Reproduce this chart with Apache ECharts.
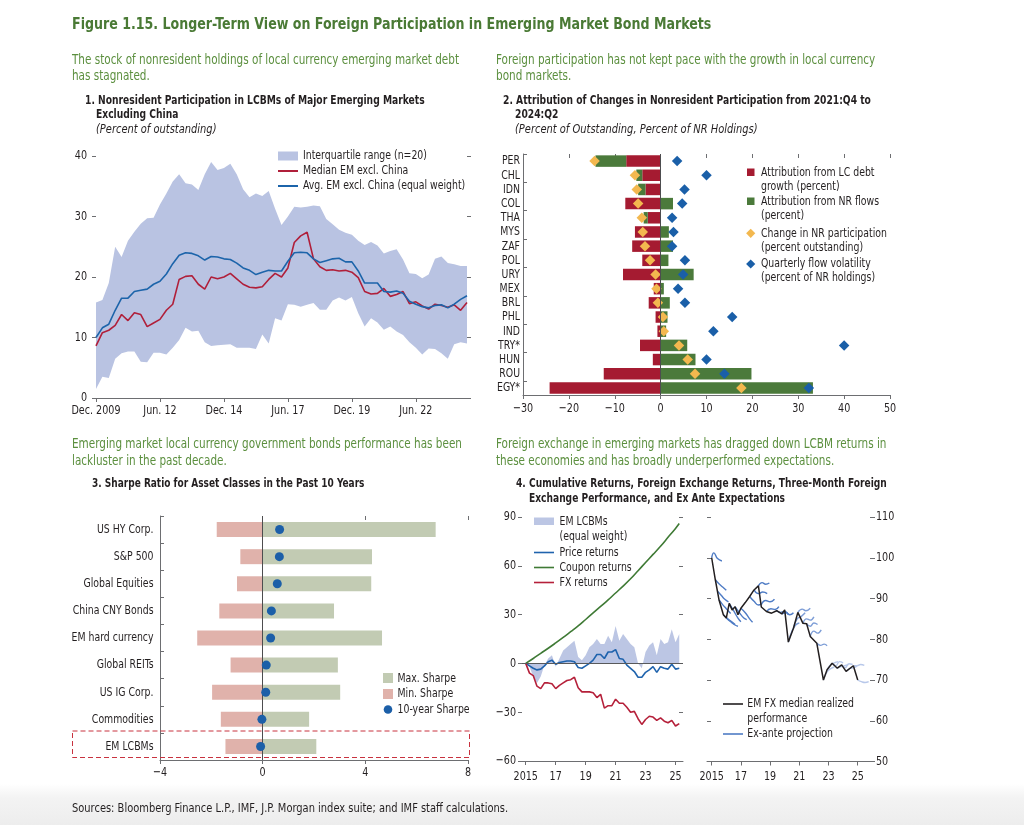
<!DOCTYPE html>
<html><head><meta charset="utf-8">
<script src="https://cdn.jsdelivr.net/npm/echarts@6/dist/echarts.min.js"></script>
<style>html,body{margin:0;padding:0;background:#fff}#c{width:1024px;height:825px}</style>
</head><body><div id="c"></div>
<script>
// ---------------- Panel 1 data (quarterly, Dec. 2009 - Jun. 2024) ----------------
const p1TickIndex = [0, 10, 20, 30, 40, 50];
const p1TickLabels = ['Dec. 2009', 'Jun. 12', 'Dec. 14', 'Jun. 17', 'Dec. 19', 'Jun. 22'];
const p1YTicks = [0, 10, 20, 30, 40];
const p1Avg = [10.0,11.6,12.2,14.5,16.5,16.5,17.6,17.8,18.0,18.8,19.3,20.5,22.2,23.6,24.0,23.9,23.5,22.8,23.4,23.3,23.0,22.9,22.3,21.5,21.1,20.4,20.8,21.1,21.0,21.0,22.6,24.0,24.1,24.0,23.0,22.4,22.7,23.0,23.1,22.5,22.5,21.0,19.0,19.0,19.0,17.6,17.5,17.7,17.3,16.0,15.5,15.1,14.9,15.3,15.4,14.9,15.5,16.3,16.9];
const p1Median = [8.6,10.8,11.2,12.0,13.8,12.8,14.1,13.8,11.8,12.4,13.0,14.5,15.5,19.6,20.1,20.2,18.8,18.0,20.0,19.7,20.0,20.6,19.7,18.8,18.3,18.2,18.4,19.6,20.6,20.0,21.5,25.7,26.8,27.4,23.0,21.7,21.1,21.2,21.0,21.1,20.8,19.9,17.6,17.2,17.3,18.1,16.8,17.1,17.6,15.6,15.9,15.2,14.7,15.5,15.3,15.0,15.4,14.5,15.8];
const p1Upper = [15.8,16.2,19.0,25.0,23.3,26.0,27.5,28.8,29.7,29.8,32.0,33.8,35.8,37.0,35.5,35.3,34.4,37.0,39.0,37.7,38.0,38.7,37.0,34.5,33.2,33.8,33.4,34.2,31.3,28.6,30.0,31.6,31.5,31.6,31.8,31.7,29.6,28.7,27.8,27.3,27.0,26.0,25.3,25.8,25.2,23.9,24.3,24.6,22.9,20.6,20.5,19.8,20.4,23.0,23.4,22.3,22.1,21.8,21.8];
const p1Lower = [1.5,3.5,3.3,6.5,7.4,7.7,7.7,6.0,5.9,7.5,7.5,7.2,8.3,9.6,11.6,11.0,11.1,9.2,8.6,8.7,8.8,8.9,8.3,8.3,8.3,8.1,10.5,9.0,13.2,12.8,15.5,15.4,15.1,15.4,15.7,14.6,14.6,16.1,16.6,16.1,16.7,14.0,11.8,13.2,12.5,11.3,11.8,11.0,10.4,9.2,8.3,7.2,8.2,8.1,7.4,6.5,8.9,9.2,9.0];
const p1Quarters = [];
for (let i = 0; i < p1Avg.length; i++) { const q = 2009 * 4 + 3 + i; p1Quarters.push(Math.floor(q / 4) + 'Q' + (q % 4 + 1)); }

// ---------------- Panel 2 data ----------------
const p2Countries = ['PER','CHL','IDN','COL','THA','MYS','ZAF','POL','URY','MEX','BRL','PHL','IND','TRY*','HUN','ROU','EGY*'];
const p2LcDebt = [-7.5,-4.0,-3.3,-7.7,-2.8,-5.6,-6.2,-4.0,-8.2,-1.5,-2.6,-1.1,-0.7,-4.5,-1.7,-12.4,-24.2];
const p2NrFlows = [-6.7,-1.3,-1.6,2.7,-0.9,1.8,2.7,1.7,7.2,0.7,2.0,1.5,1.2,5.8,7.6,19.8,33.2];
const p2Change = [-14.4,-5.6,-5.2,-4.9,-4.1,-3.9,-3.4,-2.3,-1.1,-0.9,-0.6,0.5,0.7,4.0,5.9,7.5,17.6];
const p2Volatility = [3.6,10.0,5.2,4.7,2.5,2.8,2.5,5.3,4.9,3.8,5.3,15.6,11.5,40.0,10.0,13.9,32.3];
const p2XTicks = [-30, -20, -10, 0, 10, 20, 30, 40, 50];

// ---------------- Panel 3 data ----------------
const p3Assets = ['US HY Corp.','S&P 500','Global Equities','China CNY Bonds','EM hard currency','Global REITs','US IG Corp.','Commodities','EM LCBMs'];
const p3Max = [6.74,4.26,4.23,2.78,4.65,2.93,3.02,1.81,2.09];
const p3Min = [-1.79,-0.87,-1.0,-1.69,-2.55,-1.25,-1.97,-1.63,-1.45];
const p3Sharpe = [0.66,0.65,0.57,0.34,0.31,0.14,0.12,-0.03,-0.08];
const p3XTicks = [-4, 0, 4, 8];

// ---------------- Panel 4 (left) data ----------------
const p4TickYears = [2015, 2017, 2019, 2021, 2023, 2025];
const p4TickLabels = ['2015', '17', '19', '21', '23', '25'];
const p4LYTicks = [-60, -30, 0, 30, 60, 90];
const p4Years = [2015,2015.25,2015.5,2015.75,2016,2016.25,2016.5,2016.75,2017,2017.25,2017.5,2017.75,2018,2018.25,2018.5,2018.75,2019,2019.25,2019.5,2019.75,2020,2020.25,2020.5,2020.75,2021,2021.25,2021.5,2021.75,2022,2022.25,2022.5,2022.75,2023,2023.25,2023.5,2023.75,2024,2024.25,2024.5,2024.75,2025,2025.25];
const p4Total = [0,-2,-8,-12,-8,-1,3,5,-2,3,8,10,12,14,4,2,5,10,12,15,12,12,17,13,23,14,18,15,12,10,0,-3,7,11,13,5,15,12,13,21,13,18];
const p4Price = [0,-1.5,-3,-4,-3.5,-1.5,1,2,-0.5,0.5,1,1.5,1.5,1,-2.5,-3,-1.5,0,2,5.5,5.5,3,7,7,8.5,3,2.5,-1,-3,-5,-8.5,-8.5,-5.5,-4,-2,-5.5,-2,-3,-3.5,-0.5,-3.5,-3];
const p4FxRet = [0,-6,-7.5,-14,-15.5,-12,-12,-12.5,-15.5,-13.5,-12,-10.5,-10,-8.5,-15,-17.5,-17.5,-17.5,-18,-21,-19,-27.5,-26,-26,-22,-24.5,-24.5,-27,-30,-29.5,-34,-37.5,-34.5,-32.5,-33,-35,-33.5,-35.5,-36.5,-35,-38.5,-37];
const p4CouponYears = [2015,2015.5,2016,2016.5,2017,2017.5,2018,2018.5,2019,2019.5,2020,2020.5,2021,2021.5,2022,2022.5,2023,2023.5,2024,2024.5,2025,2025.25];
const p4Coupon = [0,3,6.2,9.3,12.6,16,19.5,23,27,31,35,39,43.3,47.5,52,57,62,67,72,77.5,83,86];

// ---------------- Panel 4 (right) data ----------------
const p4RYTicks = [50, 60, 70, 80, 90, 100, 110];
const p4FxYears = [2015.0,2015.25,2015.5,2015.8,2016.0,2016.2,2016.4,2016.6,2016.8,2017.0,2017.3,2017.6,2017.9,2018.2,2018.4,2018.75,2019.1,2019.45,2019.8,2020.0,2020.25,2020.6,2020.9,2021.25,2021.5,2021.75,2022.2,2022.65,2022.9,2023.25,2023.6,2023.9,2024.2,2024.7,2025.0];
const p4FxMedian = [100,94.6,89.7,86,85.2,88.8,87.2,88,86,87.6,89,90.5,92.1,93.1,87.9,86.8,86.4,87,86.2,87.2,79.3,82.7,86.6,83.9,83.8,80.7,79,70,72.5,74.1,72.9,73.7,72.1,73.5,70];
const p4Projections = [
  [[2015.0,100],[2015.15,101.2],[2015.4,99.8],[2015.7,99.2]],
  [[2015.25,94.6],[2015.5,93.6],[2015.75,92.8],[2016.0,92.0]],
  [[2015.4,91.8],[2015.65,90.8],[2015.9,89.8],[2016.15,89.2]],
  [[2015.5,89.7],[2015.75,88.5],[2016.0,87.5],[2016.3,86.3]],
  [[2015.8,86],[2016.1,85],[2016.4,84.2],[2016.6,83.6]],
  [[2016.0,85.2],[2016.3,84.3],[2016.6,83.5],[2016.8,83.2]],
  [[2016.2,88.8],[2016.5,87],[2016.8,85.2],[2017.0,84.3]],
  [[2016.6,88],[2016.9,86.5],[2017.2,85.2],[2017.4,84.8]],
  [[2017.0,87.6],[2017.3,86.5],[2017.6,85],[2017.8,84.2]],
  [[2017.6,90.5],[2017.9,89.3],[2018.2,88.4],[2018.4,88.6]],
  [[2017.9,92.1],[2018.2,91.2],[2018.5,91.6],[2018.8,91.2]],
  [[2018.2,93.1],[2018.45,93.9],[2018.7,93.5],[2018.95,93.8]],
  [[2018.4,88.5],[2018.7,89.5],[2019.0,89.2],[2019.3,89.8]],
  [[2018.75,86.8],[2019.05,87.5],[2019.35,87.3],[2019.6,88]],
  [[2019.45,87],[2019.7,86.6],[2020.0,86.8],[2020.25,86]],
  [[2019.8,86.2],[2020.1,86.5],[2020.35,86],[2020.6,86.5]],
  [[2020.25,79.3],[2020.5,82],[2020.75,83.5],[2021.0,84]],
  [[2020.6,82.7],[2020.85,85],[2021.1,85.5],[2021.4,86.5]],
  [[2020.9,86.6],[2021.2,87.4],[2021.45,87],[2021.75,87.6]],
  [[2021.25,83.9],[2021.5,85],[2021.75,84.7],[2022.0,85.5]],
  [[2021.5,83.8],[2021.75,83.2],[2022.0,84.0],[2022.25,83.6]],
  [[2021.75,80.7],[2022.0,82],[2022.25,81.5],[2022.5,82.3]],
  [[2022.2,79],[2022.45,78.5],[2022.7,78.8],[2022.9,78.4]],
  [[2022.65,70],[2022.9,72],[2023.15,72.8],[2023.4,73.2]],
  [[2022.9,72.5],[2023.15,73.8],[2023.4,74.2],[2023.65,74.5]],
  [[2023.25,74.1],[2023.5,73.5],[2023.75,74.5],[2024.0,74.2]],
  [[2023.6,72.9],[2023.85,73.3],[2024.1,73.5],[2024.35,73.8]],
  [[2023.9,73.7],[2024.15,73],[2024.4,74],[2024.65,73.8]],
  [[2024.2,72.1],[2024.45,72.8],[2024.7,73],[2024.95,73.4]],
  [[2024.7,73.5],[2024.95,73.5],[2025.2,73.8],[2025.45,73.6]],
  [[2025.0,70],[2025.25,69.6],[2025.5,69.4],[2025.75,69.6]]
];

// ---------------- styling ----------------
const FF = "'DejaVu Sans Condensed','DejaVu Sans',sans-serif";
const AX = '#6d6e71', TXT = '#231f20';
const GREEN_T = '#4a7a35', GREEN_S = '#5b8f3e';
const C = {
  p1Band: '#b9c3e2', p1Red: '#b01f3a', p1Blue: '#1c64aa',
  p2Red: '#a51b31', p2Green: '#4b7a3b', p2Yellow: '#f3b84f', p2Blue: '#1a5fa8',
  p3Max: '#c2cbb3', p3Min: '#e0b2ab', p3Dot: '#1c5fa8',
  p4Band: '#bcc6e4', p4Green: '#3f7a35', p4Blue: '#1f63ad', p4Red: '#b5203a',
  p4Black: '#231f20'
};
const minus = v => (v < 0 ? '\u2212' + Math.abs(v) : String(v));
const isP1Tick = (i) => p1TickIndex.indexOf(i) >= 0;
const S_REG = 0.8, S_NUM = 0.82;

function txt(t, x, y, font, fill, align, sx, valign) {
  return { type: 'text', x: x, y: y, scaleX: sx || S_REG, silent: true, z: 100,
    style: { text: t, font: font, fill: fill || TXT, align: align || 'left', textAlign: align || 'left',
      verticalAlign: valign || 'middle', textVerticalAlign: valign || 'middle' } };
}
function rect(x, y, w, h, fill) { return { type: 'rect', silent: true, z: 100, shape: { x: x, y: y, width: w, height: h }, style: { fill: fill } }; }
function hline(x1, x2, y, stroke, w) { return { type: 'line', silent: true, z: 100, shape: { x1: x1, y1: y, x2: x2, y2: y }, style: { stroke: stroke, lineWidth: w || 2 } }; }
function diamond(cx, cy, r, fill) { return { type: 'polygon', silent: true, z: 100, shape: { points: [[cx, cy - r], [cx + r, cy], [cx, cy + r], [cx - r, cy]] }, style: { fill: fill } }; }

const fTitle = 'bold 16px ' + FF;
const fSub = '14.5px ' + FF;
const fPT = 'bold 12.5px ' + FF;
const fPI = 'italic 12.5px ' + FF;
const fLeg = '13px ' + FF;
const fTick = '13px ' + FF;

const graphics = [
  { type: 'rect', silent: true, z: -10, shape: { x: 0, y: 784, width: 1024, height: 41 },
    style: { fill: new echarts.graphic.LinearGradient(0, 0, 0, 1, [{ offset: 0, color: 'rgba(242,242,242,0)' }, { offset: 0.35, color: '#f3f3f3' }, { offset: 1, color: '#ededed' }]) } },
  txt('Figure 1.15. Longer-Term View on Foreign Participation in Emerging Market Bond Markets', 72, 25, fTitle, GREEN_T, 'left', 0.877),
  txt('The stock of nonresident holdings of local currency emerging market debt', 72, 60, fSub, GREEN_S),
  txt('has stagnated.', 72, 76, fSub, GREEN_S),
  txt('1. Nonresident Participation in LCBMs of Major Emerging Markets', 85, 101, fPT, TXT, 'left', 0.815),
  txt('Excluding China', 96, 115, fPT, TXT, 'left', 0.815),
  txt('(Percent of outstanding)', 96, 130, fPI, TXT, 'left', 0.88),
  txt('Foreign participation has not kept pace with the growth in local currency', 496, 60, fSub, GREEN_S),
  txt('bond markets.', 496, 76, fSub, GREEN_S),
  txt('2. Attribution of Changes in Nonresident Participation from 2021:Q4 to', 503, 101, fPT, TXT, 'left', 0.815),
  txt('2024:Q2', 515, 115, fPT, TXT, 'left', 0.815),
  txt('(Percent of Outstanding, Percent of NR Holdings)', 515, 130, fPI, TXT, 'left', 0.88),
  txt('Emerging market local currency government bonds performance has been', 72, 444, fSub, GREEN_S),
  txt('lackluster in the past decade.', 72, 461, fSub, GREEN_S),
  txt('3. Sharpe Ratio for Asset Classes in the Past 10 Years', 92, 484, fPT, TXT, 'left', 0.8),
  txt('Foreign exchange in emerging markets has dragged down LCBM returns in', 496, 444, fSub, GREEN_S),
  txt('these economies and has broadly underperformed expectations.', 496, 461, fSub, GREEN_S),
  txt('4. Cumulative Returns, Foreign Exchange Returns, Three-Month Foreign', 516, 484, fPT, TXT, 'left', 0.81),
  txt('Exchange Performance, and Ex Ante Expectations', 529, 499, fPT, TXT, 'left', 0.81),
  txt('Sources: Bloomberg Finance L.P., IMF, J.P. Morgan index suite; and IMF staff calculations.', 72, 809, '12.5px ' + FF, TXT, 'left', 0.88),

  // panel 1 legend
  rect(278, 151.5, 20, 9, C.p1Band),
  txt('Interquartile range (n=20)', 303, 156, fLeg),
  hline(278, 298, 171, C.p1Red, 2),
  txt('Median EM excl. China', 303, 171, fLeg),
  hline(278, 298, 186, C.p1Blue, 2),
  txt('Avg. EM excl. China (equal weight)', 303, 186, fLeg),

  // panel 2 legend
  rect(747, 168.5, 7.5, 7.5, C.p2Red),
  txt('Attribution from LC debt', 761, 172.5, fLeg),
  txt('growth (percent)', 761, 186.5, fLeg),
  rect(747, 197.5, 7.5, 7.5, C.p2Green),
  txt('Attribution from NR flows', 761, 201.5, fLeg),
  txt('(percent)', 761, 215.5, fLeg),
  diamond(750.7, 233.3, 4.6, C.p2Yellow),
  txt('Change in NR participation', 761, 233.3, fLeg),
  txt('(percent outstanding)', 761, 247.3, fLeg),
  diamond(750.7, 264, 4.6, C.p2Blue),
  txt('Quarterly flow volatility', 761, 264, fLeg),
  txt('(percent of NR holdings)', 761, 277.8, fLeg),

  // panel 3 legend
  rect(383, 673, 10, 10, C.p3Max),
  txt('Max. Sharpe', 397.5, 678.3, fLeg),
  rect(383, 689, 10, 10, C.p3Min),
  txt('Min. Sharpe', 397.5, 694, fLeg),
  { type: 'circle', silent: true, z: 100, shape: { cx: 388, cy: 709.5, r: 4.3 }, style: { fill: C.p3Dot } },
  txt('10-year Sharpe', 397.5, 709.5, fLeg),
  { type: 'rect', silent: true, z: 100, shape: { x: 72.5, y: 731, width: 397, height: 26.5 },
    style: { fill: 'none', stroke: '#c8323f', lineWidth: 1, lineDash: [5, 3] } },

  // panel 4 left legend
  rect(534, 517.5, 20, 7.5, C.p4Band),
  txt('EM LCBMs', 559.5, 521.5, fLeg),
  txt('(equal weight)', 559.5, 537, fLeg),
  hline(534, 554, 552.5, C.p4Blue, 1.6),
  txt('Price returns', 559.5, 552.3, fLeg),
  hline(534, 554, 567.5, C.p4Green, 1.6),
  txt('Coupon returns', 559.5, 567.3, fLeg),
  hline(534, 554, 582.5, C.p4Red, 1.6),
  txt('FX returns', 559.5, 582.3, fLeg),

  // panel 4 right legend
  hline(723, 743, 704, C.p4Black, 1.6),
  txt('EM FX median realized', 747.3, 704, fLeg),
  txt('performance', 747.3, 719, fLeg),
  hline(723, 743, 734, '#4f7cc5', 1.6),
  txt('Ex-ante projection', 747.3, 734, fLeg)
];

const projColor = i => (i < 16 ? '#4f7cc5' : (i < 23 ? '#7e9ed7' : '#b8c8ea'));

const series = [
  // ---- panel 1 ----
  { type: 'line', xAxisIndex: 0, yAxisIndex: 0, data: p1Lower, stack: 'iqr', symbol: 'none', silent: true, lineStyle: { opacity: 0 }, z: 1 },
  { type: 'line', xAxisIndex: 0, yAxisIndex: 0, data: p1Upper.map((u, i) => +(u - p1Lower[i]).toFixed(2)), stack: 'iqr', symbol: 'none', silent: true,
    lineStyle: { opacity: 0 }, areaStyle: { color: C.p1Band, opacity: 1 }, z: 1 },
  { type: 'line', xAxisIndex: 0, yAxisIndex: 0, data: p1Median, symbol: 'none', lineStyle: { color: C.p1Red, width: 1.6 }, z: 3 },
  { type: 'line', xAxisIndex: 0, yAxisIndex: 0, data: p1Avg, symbol: 'none', lineStyle: { color: C.p1Blue, width: 1.6 }, z: 3 },

  // ---- panel 2 ----
  { type: 'bar', xAxisIndex: 1, yAxisIndex: 2, data: p2LcDebt, stack: 'attr', barWidth: 11.5, itemStyle: { color: C.p2Red }, z: 2,
    markLine: { silent: true, symbol: 'none', label: { show: false }, lineStyle: { color: '#4d4d4f', type: 'solid', width: 1 }, data: [{ xAxis: 0 }] } },
  { type: 'bar', xAxisIndex: 1, yAxisIndex: 2, data: p2NrFlows, stack: 'attr', barWidth: 11.5, itemStyle: { color: C.p2Green }, z: 2 },
  { type: 'scatter', xAxisIndex: 1, yAxisIndex: 2, data: p2Change.map((v, i) => [v, p2Countries[i]]), symbol: 'diamond', symbolSize: 10.5, itemStyle: { color: C.p2Yellow, opacity: 1 }, z: 4 },
  { type: 'scatter', xAxisIndex: 1, yAxisIndex: 2, data: p2Volatility.map((v, i) => [v, p2Countries[i]]), symbol: 'diamond', symbolSize: 10.5, itemStyle: { color: C.p2Blue, opacity: 1 }, z: 5 },

  // ---- panel 3 ----
  { type: 'bar', xAxisIndex: 3, yAxisIndex: 3, data: p3Max, barWidth: 15, barGap: '-100%', itemStyle: { color: C.p3Max }, z: 2,
    markLine: { silent: true, symbol: 'none', label: { show: false }, lineStyle: { color: '#4d4d4f', type: 'solid', width: 1 }, data: [{ xAxis: 0 }] } },
  { type: 'bar', xAxisIndex: 3, yAxisIndex: 3, data: p3Min, barWidth: 15, barGap: '-100%', itemStyle: { color: C.p3Min }, z: 2 },
  { type: 'scatter', xAxisIndex: 3, yAxisIndex: 3, data: p3Sharpe.map((v, i) => [v, p3Assets[i]]), symbol: 'circle', symbolSize: 9, itemStyle: { color: C.p3Dot, opacity: 1 }, z: 5 },

  // ---- panel 4 left ----
  { type: 'line', xAxisIndex: 5, yAxisIndex: 4, data: p4Years.map((x, i) => [x, p4Total[i]]), symbol: 'none', silent: true,
    lineStyle: { width: 0, opacity: 0 }, areaStyle: { color: C.p4Band, opacity: 1, origin: 0 }, z: 1,
    markLine: { silent: true, symbol: 'none', label: { show: false }, lineStyle: { color: '#58595b', type: 'solid', width: 1 }, data: [{ yAxis: 0 }] } },
  { type: 'line', xAxisIndex: 5, yAxisIndex: 4, data: p4CouponYears.map((x, i) => [x, p4Coupon[i]]), symbol: 'none', smooth: 0.4, lineStyle: { color: C.p4Green, width: 1.6 }, z: 3 },
  { type: 'line', xAxisIndex: 5, yAxisIndex: 4, data: p4Years.map((x, i) => [x, p4Price[i]]), symbol: 'none', lineStyle: { color: C.p4Blue, width: 1.6 }, z: 3 },
  { type: 'line', xAxisIndex: 5, yAxisIndex: 4, data: p4Years.map((x, i) => [x, p4FxRet[i]]), symbol: 'none', lineStyle: { color: C.p4Red, width: 1.6 }, z: 3 }
];
// ---- panel 4 right ----
p4Projections.forEach((pts, i) => {
  series.push({ type: 'line', xAxisIndex: 6, yAxisIndex: 6, data: pts, symbol: 'none', smooth: 0.5, silent: true,
    lineStyle: { color: projColor(i), width: 1.4 }, z: 2 });
});
series.push({ type: 'line', xAxisIndex: 6, yAxisIndex: 6, data: p4FxYears.map((x, i) => [x, p4FxMedian[i]]), symbol: 'none',
  lineStyle: { color: C.p4Black, width: 1.5 }, z: 4 });

const noLbl = { show: false };
const tk = (o) => Object.assign({ show: true, length: 4, lineStyle: { color: AX } }, o || {});
const axLine = { show: true, onZero: false, lineStyle: { color: AX } };
const option = {
  animation: false,
  backgroundColor: '#ffffff',
  textStyle: { fontFamily: FF },
  grid: [
    { left: 96, top: 156, width: 371, height: 242, outerBoundsMode: 'none', containLabel: false },
    { left: 523, top: 154, width: 367, height: 241, outerBoundsMode: 'none', containLabel: false },
    { left: 160, top: 516, width: 308, height: 244, outerBoundsMode: 'none', containLabel: false },
    { left: 522, top: 517, width: 161, height: 244, outerBoundsMode: 'none', containLabel: false },
    { left: 707, top: 517, width: 163, height: 244.5, outerBoundsMode: 'none', containLabel: false }
  ],
  xAxis: [
    { gridIndex: 0, type: 'category', data: p1Quarters, boundaryGap: false, axisLine: axLine,
      axisTick: tk({ interval: (i) => isP1Tick(i) }), axisLabel: noLbl, splitLine: { show: false } },
    { gridIndex: 1, type: 'value', min: -30, max: 50, interval: 10, position: 'bottom', axisLine: axLine,
      axisTick: tk(), axisLabel: noLbl, splitLine: { show: false } },
    { gridIndex: 1, type: 'value', min: -30, max: 50, interval: 10, position: 'top', axisLine: { show: false },
      axisTick: tk({ inside: true }), axisLabel: noLbl, splitLine: { show: false } },
    { gridIndex: 2, type: 'value', min: -4, max: 8, interval: 4, position: 'bottom', axisLine: axLine,
      axisTick: tk(), axisLabel: noLbl, splitLine: { show: false } },
    { gridIndex: 2, type: 'value', min: -4, max: 8, interval: 4, position: 'top', axisLine: { show: false },
      axisTick: tk({ inside: true }), axisLabel: noLbl, splitLine: { show: false } },
    { gridIndex: 3, type: 'value', min: 2014.75, max: 2025.5, position: 'bottom', axisLine: axLine,
      axisTick: tk({ customValues: p4TickYears }), axisLabel: { show: false, customValues: p4TickYears }, splitLine: { show: false } },
    { gridIndex: 4, type: 'value', min: 2014.68, max: 2025.84, position: 'bottom', axisLine: axLine,
      axisTick: tk({ customValues: p4TickYears }), axisLabel: { show: false, customValues: p4TickYears }, splitLine: { show: false } }
  ],
  yAxis: [
    { gridIndex: 0, type: 'value', min: 0, max: 40, interval: 10, position: 'left', axisLine: { show: false },
      axisTick: tk(), axisLabel: noLbl, splitLine: { show: false } },
    { gridIndex: 0, type: 'value', min: 0, max: 40, interval: 10, position: 'right', axisLine: { show: false },
      axisTick: tk(), axisLabel: noLbl, splitLine: { show: false } },
    { gridIndex: 1, type: 'category', data: p2Countries, inverse: true, position: 'left', axisLine: axLine,
      axisTick: tk({ inside: true }), axisLabel: noLbl, splitLine: { show: false } },
    { gridIndex: 2, type: 'category', data: p3Assets, inverse: true, position: 'left', axisLine: axLine,
      axisTick: tk({ inside: true }), axisLabel: noLbl, splitLine: { show: false } },
    { gridIndex: 3, type: 'value', min: -60, max: 90, interval: 30, position: 'left', axisLine: { show: false },
      axisTick: tk(), axisLabel: noLbl, splitLine: { show: false } },
    { gridIndex: 3, type: 'value', min: -60, max: 90, interval: 30, position: 'right', axisLine: { show: false },
      axisTick: tk({ inside: true }), axisLabel: noLbl, splitLine: { show: false } },
    { gridIndex: 4, type: 'value', min: 50, max: 110, interval: 10, position: 'right', axisLine: { show: false },
      axisTick: tk({ length: 5 }), axisLabel: noLbl, splitLine: { show: false } },
    { gridIndex: 4, type: 'value', min: 50, max: 110, interval: 10, position: 'left', axisLine: { show: false },
      axisTick: tk({ inside: true }), axisLabel: noLbl, splitLine: { show: false } }
  ],
  series: series
};

const chart = echarts.init(document.getElementById('c'), null, { renderer: 'canvas' });
chart.setOption(option);

// ---- axis tick labels, positioned through the axes' own scales ----
const px = (finder, v) => chart.convertToPixel(finder, v);
const labels = [];
p1TickIndex.forEach((idx, k) => labels.push(txt(p1TickLabels[k], px({ xAxisIndex: 0 }, p1Quarters[idx]), 410.5, fTick, TXT, 'center', S_NUM)));
p1YTicks.forEach(v => labels.push(txt(String(v), 87, px({ yAxisIndex: 0 }, v), fTick, TXT, 'right', S_NUM)));
p2XTicks.forEach(v => labels.push(txt(minus(v), px({ xAxisIndex: 1 }, v), 408.5, fTick, TXT, 'center', S_NUM)));
p2Countries.forEach(c => labels.push(txt(c, 520, px({ yAxisIndex: 2 }, c), fTick, TXT, 'right', S_REG)));
p3XTicks.forEach(v => labels.push(txt(minus(v), px({ xAxisIndex: 3 }, v), 773, fTick, TXT, 'center', S_NUM)));
p3Assets.forEach(c => labels.push(txt(c, 153.5, px({ yAxisIndex: 3 }, c), fTick, TXT, 'right', S_REG)));
p4TickYears.forEach((v, k) => labels.push(txt(p4TickLabels[k], px({ xAxisIndex: 5 }, v), 776.5, fTick, TXT, 'center', S_NUM)));
p4LYTicks.forEach(v => labels.push(txt(minus(v), 516, px({ yAxisIndex: 4 }, v), fTick, TXT, 'right', S_NUM)));
p4TickYears.forEach((v, k) => labels.push(txt(p4TickLabels[k], px({ xAxisIndex: 6 }, v), 776.5, fTick, TXT, 'center', S_NUM)));
p4RYTicks.forEach(v => labels.push(txt(String(v), 876, px({ yAxisIndex: 6 }, v), fTick, TXT, 'left', S_NUM)));

chart.setOption({ graphic: graphics.concat(labels) });
</script>
</body></html>
